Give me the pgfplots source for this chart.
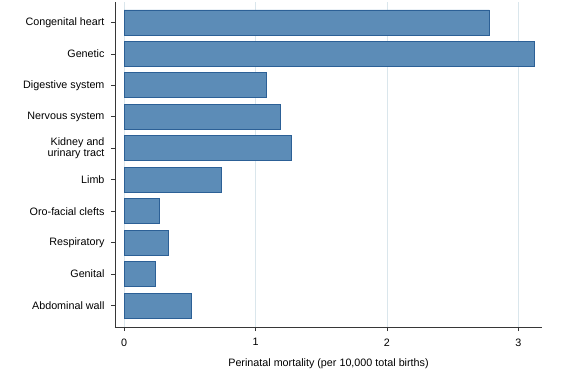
\documentclass[border=0pt]{standalone}
\usepackage{pgfplots}
\pgfplotsset{compat=1.18}
\usepackage{fontspec}
\setmainfont{Liberation Sans}
\usetikzlibrary{calc}
\definecolor{barfill}{RGB}{92,140,183}
\definecolor{baredge}{RGB}{44,96,150}
\definecolor{gridc}{RGB}{218,230,236}
\definecolor{axc}{RGB}{55,55,55}
\begin{document}
\begin{tikzpicture}
\begin{axis}[
  name=ax,
  scale only axis,
  width=427bp, height=325bp,
  xmin=-0.069, xmax=3.18,
  ymin=-0.65, ymax=9.68,
  y dir=reverse,
  axis x line*=bottom, axis y line*=left,
  axis line style={axc, line width=0.9pt, -},
  xtick={0,1,2,3},
  ytick={0,1,2,3,4,5,6,7,8,9},
  yticklabels={Congenital heart,Genetic,Digestive system,Nervous system,{Kidney and\\urinary tract},Limb,Oro-facial clefts,Respiratory,Genital,Abdominal wall},
  yticklabel style={align=right, font=\fontsize{10.8}{11.5}\selectfont, xshift=-3bp},
  xticklabel style={font=\fontsize{10.8}{12}\selectfont, yshift=-4bp},
  tick align=outside,
  major tick length=4bp,
  tick style={axc, line width=0.8pt},
  xmajorgrids, grid style={gridc, line width=0.8pt},
  xlabel={Perinatal mortality (per 10,000 total births)},
  xlabel style={font=\fontsize{10.8}{12}\selectfont, yshift=-6bp},
  /pgf/number format/assume math mode=true,
  xbar, bar width=25bp,
  clip=false,
]
\addplot[fill=barfill, draw=baredge, line width=0.8pt] coordinates {
 (2.78,0) (3.12,1) (1.08,2) (1.19,3) (1.27,4) (0.74,5) (0.27,6) (0.34,7) (0.24,8) (0.51,9)
};
\end{axis}
\useasboundingbox ($(ax.south west)+(-115bp,-47bp)$) rectangle ($(ax.north east)+(20bp,2bp)$);
\end{tikzpicture}
\end{document}
